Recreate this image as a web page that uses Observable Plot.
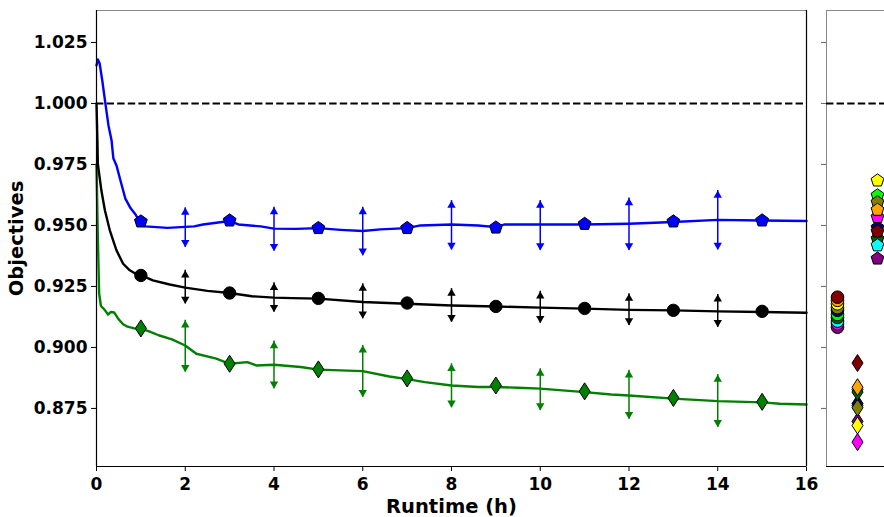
<!DOCTYPE html>
<html>
<head>
<meta charset="utf-8">
<script src="https://cdn.jsdelivr.net/npm/d3@7"></script>
<script src="https://cdn.jsdelivr.net/npm/@observablehq/plot@0.6"></script>
<style>
  html, body { margin: 0; padding: 0; background: white; }
  #wrap { position: relative; width: 884px; height: 517px; overflow: hidden; background: white; }
  #main { position: absolute; left: 0; top: 0; }
  #side { position: absolute; left: 816px; top: 0; }
</style>
</head>
<body>
<div id="wrap"><div id="main"></div><div id="side"></div></div>
<script>
// ---------- data ----------
const yDomain = [0.8512, 1.0381];
const xDomain = [0, 16];
const xTicks = [0, 2, 4, 6, 8, 10, 12, 14, 16];
const yTicks = [0.875, 0.900, 0.925, 0.950, 0.975, 1.000, 1.025];
const reference = [1.0];

const blueCurve = [[0,1.0156],[0.03,1.018],[0.07,1.0165],[0.13,1.0094],[0.2,1.0],[0.27,0.991],[0.34,0.9848],[0.38,0.9775],[0.45,0.9746],[0.54,0.9684],[0.65,0.961],[0.77,0.957],[0.88,0.9545],[0.98,0.9512],[1.1,0.9496],[1.6,0.949],[2.2,0.9496],[2.4,0.9504],[3.0,0.9518],[3.2,0.9504],[3.7,0.9496],[4.0,0.9487],[4.5,0.9486],[5,0.9489],[5.5,0.9482],[6,0.9477],[6.4,0.9484],[7,0.9489],[7.3,0.95],[8,0.9504],[8.6,0.95],[9,0.9493],[9.2,0.9504],[10,0.9504],[11,0.9504],[12,0.9507],[13,0.9514],[14,0.9523],[15,0.952],[16,0.9518]];
const blackCurve = [[0,1.0],[0.02,0.985],[0.03,0.9753],[0.11,0.9643],[0.19,0.9561],[0.3,0.948],[0.45,0.9398],[0.6,0.9343],[0.75,0.9316],[0.9,0.930],[1.0,0.9296],[1.27,0.9275],[1.65,0.9258],[2.0,0.9245],[2.5,0.9232],[3.0,0.9223],[3.5,0.921],[4.0,0.9204],[4.4,0.9202],[5,0.920],[6,0.9186],[7,0.9179],[8,0.9172],[9,0.9168],[10,0.9163],[11,0.9159],[12,0.9154],[13,0.9152],[14,0.9148],[15,0.9145],[16,0.9142]];
const greenCurve = [[0,0.975],[0.03,0.945],[0.06,0.922],[0.1,0.917],[0.18,0.9155],[0.26,0.9135],[0.32,0.9145],[0.4,0.9143],[0.5,0.9115],[0.6,0.9095],[0.7,0.9085],[0.85,0.9078],[1.0,0.9077],[1.2,0.9065],[1.4,0.905],[1.7,0.9033],[2.0,0.9008],[2.25,0.8974],[2.7,0.8954],[3.0,0.8933],[3.4,0.894],[3.6,0.8926],[4.0,0.8929],[4.6,0.892],[5,0.8909],[6,0.8903],[6.6,0.8881],[7,0.887],[7.4,0.8858],[8,0.8844],[8.6,0.8838],[9,0.8838],[9.5,0.8835],[10,0.8831],[11,0.8817],[11.6,0.8807],[12,0.8803],[13,0.879],[14,0.878],[15,0.8775],[15.4,0.8769],[16,0.8766]];

const markerHours = [1, 3, 5, 7, 9, 11, 13, 15];
const blueMarkers = [0.9516, 0.952, 0.9489, 0.9489, 0.9491, 0.9506, 0.9516, 0.952];
const blackMarkers = [0.9295, 0.9223, 0.9201, 0.9182, 0.9168, 0.916, 0.9152, 0.9148];
const greenMarkers = [0.9078, 0.8933, 0.891, 0.8873, 0.8844, 0.882, 0.8793, 0.8777];

const errHours = [2, 4, 6, 8, 10, 12, 14];
const blueLo = [0.9411, 0.9395, 0.9376, 0.9400, 0.9398, 0.9398, 0.9400];
const blueHi = [0.9573, 0.9575, 0.9575, 0.9602, 0.9602, 0.9612, 0.9643];
const blackLo = [0.9179, 0.9145, 0.9118, 0.9104, 0.9100, 0.9090, 0.9083];
const blackHi = [0.9316, 0.9265, 0.9261, 0.9241, 0.9230, 0.9220, 0.9217];
const greenLo = [0.8899, 0.8831, 0.8796, 0.8753, 0.8742, 0.8706, 0.8673];
const greenHi = [0.9111, 0.9026, 0.9008, 0.8933, 0.8913, 0.8906, 0.8889];

const sideGroups = ["circle", "diamond", "pentagon"];
const circleColors = ["purple", "magenta", "cyan", "darkgreen", "lime", "navy", "olive", "yellow", "orange", "maroon"];
const circleValues = [0.9083, 0.9098, 0.9108, 0.9123, 0.9135, 0.9152, 0.9163, 0.9179, 0.9193, 0.9206];
const diamondColors = ["lime", "cyan", "purple", "magenta", "yellow", "navy", "olive", "darkgreen", "orange", "maroon"];
const diamondValues = [0.8828, 0.8762, 0.8697, 0.8612, 0.8680, 0.8770, 0.8753, 0.8817, 0.8837, 0.8936];
const pentagonColors = ["purple", "navy", "darkgreen", "cyan", "maroon", "magenta", "lime", "olive", "orange", "yellow"];
const pentagonValues = [0.9364, 0.9491, 0.9445, 0.9418, 0.9475, 0.9534, 0.9623, 0.9595, 0.9564, 0.9684];

// ---------- symbols ----------
const pentagon = {
  draw(ctx, size) {
    const R = Math.sqrt(size / Math.PI) * 1.12;
    for (let i = 0; i < 5; i++) {
      const a = -Math.PI / 2 + i * 2 * Math.PI / 5;
      const px = R * Math.cos(a), py = R * Math.sin(a);
      if (i === 0) ctx.moveTo(px, py); else ctx.lineTo(px, py);
    }
    ctx.closePath();
  }
};
const thinDiamond = {
  draw(ctx, size) {
    const r = Math.sqrt(size / Math.PI);
    const h = r * 1.42, w = r * 0.92;
    ctx.moveTo(0, -h); ctx.lineTo(w, 0); ctx.lineTo(0, h); ctx.lineTo(-w, 0); ctx.closePath();
  }
};

// ---------- tables ----------
const toPts = (arr) => arr.map(([x, y]) => ({x, y}));
const markers = (vals) => markerHours.map((h, i) => ({x: h, y: vals[i]}));
const errs = (lo, hi) => errHours.map((h, i) => ({x: h, lo: lo[i], hi: hi[i]}));

const font = {fontFamily: "DejaVu Sans", fontSize: "17px", fontWeight: "bold", color: "black", background: "transparent", overflow: "visible", maxWidth: "none"};

function arrowMarks(data, color) {
  return [
    Plot.ruleX(data, {x: "x", y1: "lo", y2: "hi", stroke: color, strokeWidth: 1.5}),
    Plot.dot(data, {x: "x", y: "hi", symbol: "triangle", r: 3.1, fill: color, stroke: "none", dy: 4.7}),
    Plot.dot(data, {x: "x", y: "lo", symbol: "triangle", r: 3.1, fill: color, stroke: "none", rotate: 180, dy: -4.7})
  ];
}

const mainPlot = Plot.plot({
  width: 884, height: 517,
  marginLeft: 96, marginRight: 78, marginTop: 10, marginBottom: 51,
  style: font,
  x: {domain: xDomain, ticks: xTicks, tickSize: 5, tickPadding: 6, label: null},
  y: {domain: yDomain, ticks: yTicks, tickFormat: ".3f", tickSize: 5, tickPadding: 4, label: null},
  marks: [
    Plot.frame({stroke: "#888"}),
    Plot.ruleY(reference, {stroke: "black", strokeWidth: 2, strokeDasharray: "7.4,3.2"}),
    Plot.line(toPts(greenCurve), {x: "x", y: "y", stroke: "#008000", strokeWidth: 2.4}),
    Plot.line(toPts(blackCurve), {x: "x", y: "y", stroke: "black", strokeWidth: 2.4}),
    Plot.line(toPts(blueCurve), {x: "x", y: "y", stroke: "#0000ff", strokeWidth: 2.4}),
    ...arrowMarks(errs(blueLo, blueHi), "#0000ff"),
    ...arrowMarks(errs(blackLo, blackHi), "black"),
    ...arrowMarks(errs(greenLo, greenHi), "#008000"),
    Plot.dot(markers(blueMarkers), {x: "x", y: "y", symbol: pentagon, r: 6, fill: "#0000ff", stroke: "black", strokeWidth: 1}),
    Plot.dot(markers(blackMarkers), {x: "x", y: "y", symbol: "circle", r: 6.2, fill: "black", stroke: "black", strokeWidth: 1}),
    Plot.dot(markers(greenMarkers), {x: "x", y: "y", symbol: thinDiamond, r: 6, fill: "#008000", stroke: "black", strokeWidth: 1}),
    Plot.ruleX([xDomain[0]], {stroke: "black", strokeWidth: 1.2}),
    Plot.ruleX([xDomain[1]], {stroke: "black", strokeWidth: 1.2}),
    Plot.ruleY([yDomain[0]], {stroke: "black", strokeWidth: 1.2}),
    Plot.text(["Runtime (h)"], {frameAnchor: "bottom", lineAnchor: "middle", textAnchor: "middle", dy: 40.5, fontSize: 19.5, fontWeight: "bold", fill: "black"}),
    Plot.text(["Objectives"], {frameAnchor: "left", lineAnchor: "middle", textAnchor: "middle", rotate: -90, dx: -80, fontSize: 19.5, fontWeight: "bold", fill: "black"})
  ]
});
document.getElementById("main").appendChild(mainPlot);

const sideRows = (colors, vals, group) => colors.map((c, i) => ({g: group, y: vals[i], c}));

const sidePlot = Plot.plot({
  width: 80, height: 517,
  marginLeft: 10, marginRight: 9, marginTop: 10, marginBottom: 51,
  style: {...font, color: "#666", background: "transparent"},
  x: {type: "point", domain: sideGroups, padding: 0.49, axis: null},
  y: {domain: yDomain, ticks: yTicks, tickFormat: () => "", tickSize: 5, tickPadding: 2, label: null},
  marks: [
    Plot.frame({stroke: "#888"}),
    Plot.ruleY([yDomain[0]], {stroke: "black", strokeWidth: 1.2}),
    Plot.ruleY(reference, {stroke: "black", strokeWidth: 2, strokeDasharray: "7.4,3.2"}),
    Plot.dot(sideRows(circleColors, circleValues, "circle"), {x: "g", y: "y", fill: "c", symbol: "circle", r: 6.3, stroke: "black", strokeWidth: 1}),
    Plot.dot(sideRows(diamondColors, diamondValues, "diamond"), {x: "g", y: "y", fill: "c", symbol: thinDiamond, r: 6, stroke: "black", strokeWidth: 1}),
    Plot.dot(sideRows(pentagonColors, pentagonValues, "pentagon"), {x: "g", y: "y", fill: "c", symbol: pentagon, r: 6, stroke: "black", strokeWidth: 1})
  ]
});
document.getElementById("side").appendChild(sidePlot);
</script>
</body>
</html>
